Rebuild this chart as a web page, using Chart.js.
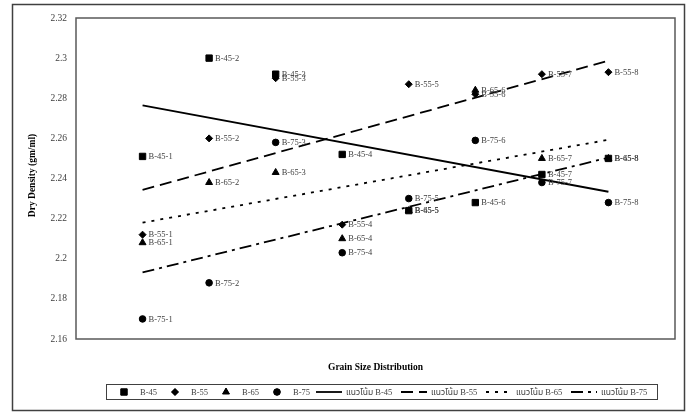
<!DOCTYPE html>
<html>
<head>
<meta charset="utf-8">
<script src="https://cdn.jsdelivr.net/npm/chart.js@4.4.1/dist/chart.umd.min.js"></script>
<style>
  html, body { margin: 0; padding: 0; background: #fff; }
</style>
</head>
<body>
<canvas id="chart" width="691" height="412"></canvas>
<script>
// x positions of the 8 grain size groups
const positions = [1, 2, 3, 4, 5, 6, 7, 8];

// dry density values
const b45 = [2.251, 2.300, 2.292, 2.252, 2.224, 2.228, 2.242, 2.250];
const b55 = [2.212, 2.260, 2.290, 2.217, 2.287, 2.282, 2.292, 2.293];
const b65 = [2.208, 2.238, 2.243, 2.210, 2.224, 2.284, 2.250, 2.250];
const b75 = [2.170, 2.188, 2.258, 2.203, 2.230, 2.259, 2.238, 2.228];

// trend line end points (at x = 1 and x = 8)
const trendX = [1, 8];
const trend45 = [2.2765, 2.2334];
const trend55 = [2.2343, 2.2987];
const trend65 = [2.2180, 2.2593];
const trend75 = [2.1932, 2.2504];

const yTicks = [2.16, 2.18, 2.2, 2.22, 2.24, 2.26, 2.28, 2.3, 2.32];
const yTickLabels = ['2.16', '2.18', '2.2', '2.22', '2.24', '2.26', '2.28', '2.3', '2.32'];

const seriesNames = ['B-45', 'B-55', 'B-65', 'B-75'];
const trendNames = ['แนวโน้ม B-45', 'แนวโน้ม B-55', 'แนวโน้ม B-65', 'แนวโน้ม B-75'];

const serif = "'Liberation Serif', 'Times New Roman', 'Noto Sans Thai', serif";
const thaiFont = "'Liberation Serif', 'Noto Sans Thai', 'Noto Serif Thai', 'Loma', 'Garuda', serif";

const markers = [
  { style: 'rect', radius: 4.5 },
  { style: 'rectRot', radius: 3.5 },
  { style: 'triangle', radius: 4 },
  { style: 'circle', radius: 3.3 }
];
const dashes = [[], [12, 6], [3, 6], [12, 5, 3, 5]];

function pts(xs, ys) {
  return ys.map((y, i) => ({ x: xs[i], y: y }));
}

const pointSets = [b45, b55, b65, b75];
const trendSets = [trend45, trend55, trend65, trend75];

const datasets = [];
pointSets.forEach((vals, i) => {
  datasets.push({
    type: 'scatter',
    label: seriesNames[i],
    data: pts(positions, vals),
    pointStyle: markers[i].style,
    pointRadius: markers[i].radius,
    backgroundColor: '#000',
    borderColor: '#000',
    borderWidth: 1,
    showLine: false,
    isPoints: true
  });
});
trendSets.forEach((vals, i) => {
  datasets.push({
    type: 'line',
    label: trendNames[i],
    data: pts(trendX, vals),
    borderColor: '#000',
    borderWidth: 1.8,
    borderDash: dashes[i],
    pointRadius: 0,
    fill: false
  });
});

// point labels, frames, axis titles and legend
const decor = {
  id: 'decor',
  afterDatasetsDraw(chart) {
    const ctx = chart.ctx;
    ctx.save();
    ctx.font = '8.5px ' + serif;
    ctx.fillStyle = '#404040';
    ctx.textBaseline = 'middle';
    ctx.textAlign = 'left';
    chart.data.datasets.forEach((ds, di) => {
      if (!ds.isPoints) return;
      const meta = chart.getDatasetMeta(di);
      meta.data.forEach((el, j) => {
        ctx.fillText(ds.label + '-' + (j + 1), el.x + 6, el.y + 0.5);
      });
    });
    ctx.restore();
  },
  afterDraw(chart) {
    const ctx = chart.ctx;
    const a = chart.chartArea;
    ctx.save();
    // plot frame
    ctx.strokeStyle = '#595959';
    ctx.lineWidth = 1.5;
    ctx.strokeRect(a.left, a.top, a.right - a.left, a.bottom - a.top);
    // outer frame
    ctx.strokeStyle = '#404040';
    ctx.strokeRect(12.5, 4.5, 672, 406);

    // axis titles
    ctx.fillStyle = '#000';
    ctx.font = 'bold 9.5px ' + serif;
    ctx.textAlign = 'center';
    ctx.textBaseline = 'middle';
    ctx.fillText('Grain Size Distribution', (a.left + a.right) / 2, 368);
    ctx.save();
    ctx.translate(33, (a.top + a.bottom) / 2 - 3);
    ctx.rotate(-Math.PI / 2);
    ctx.fillText('Dry Density (gm/ml)', 0, 0);
    ctx.restore();

    // legend
    ctx.strokeStyle = '#404040';
    ctx.lineWidth = 1;
    ctx.strokeRect(106.5, 384.5, 551, 15);
    const ly = 392;
    ctx.textAlign = 'left';
    markers.forEach((m, i) => {
      const mx = 124 + i * 51;
      ctx.fillStyle = '#000';
      ctx.strokeStyle = '#000';
      ctx.lineWidth = 1;
      Chart.helpers.drawPoint(ctx, { pointStyle: m.style, radius: m.radius, borderWidth: 1 }, mx, ly);
      ctx.fill();
      ctx.fillStyle = '#404040';
      ctx.font = '8.5px ' + serif;
      ctx.fillText(seriesNames[i], mx + 16, ly + 0.5);
    });
    trendNames.forEach((name, i) => {
      const lx = 316 + i * 85;
      ctx.strokeStyle = '#000';
      ctx.lineWidth = 1.8;
      ctx.setLineDash(dashes[i]);
      ctx.beginPath();
      ctx.moveTo(lx, ly);
      ctx.lineTo(lx + 26, ly);
      ctx.stroke();
      ctx.setLineDash([]);
      ctx.fillStyle = '#404040';
      ctx.font = '8.5px ' + thaiFont;
      ctx.fillText(name, lx + 30, ly + 0.5);
    });
    ctx.restore();
  }
};

new Chart(document.getElementById('chart').getContext('2d'), {
  data: { datasets: datasets },
  options: {
    responsive: false,
    animation: false,
    layout: { padding: { left: 0, right: 16, top: 18, bottom: 73 } },
    plugins: {
      legend: { display: false },
      tooltip: { enabled: false }
    },
    scales: {
      x: {
        type: 'linear',
        min: 0,
        max: 9,
        display: false
      },
      y: {
        type: 'linear',
        min: 2.16,
        max: 2.32,
        grid: { display: false, drawTicks: false },
        border: { display: false },
        afterFit(scale) { scale.width = 76; },
        afterBuildTicks(scale) {
          scale.ticks = yTicks.map(v => ({ value: v }));
        },
        ticks: {
          padding: 9,
          color: '#404040',
          font: { family: serif, size: 9.5 },
          callback: (v, i) => yTickLabels[i]
        }
      }
    }
  },
  plugins: [decor]
});
</script>
</body>
</html>
